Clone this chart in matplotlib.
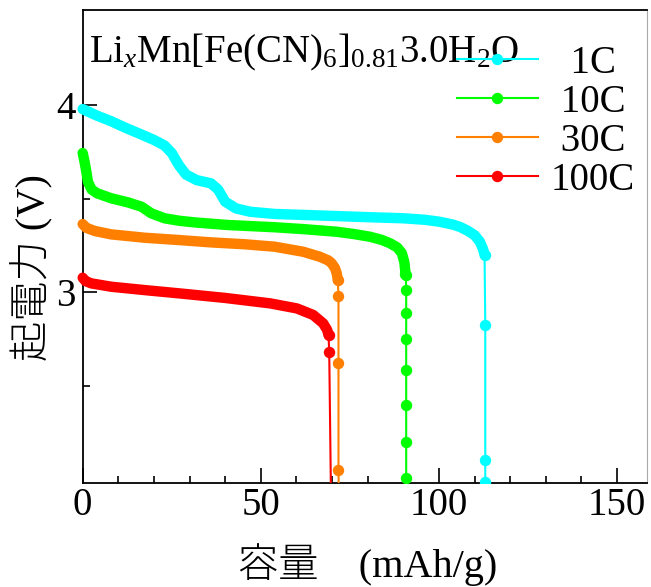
import matplotlib
matplotlib.use("Agg")
import matplotlib.pyplot as plt
from matplotlib.ticker import FixedLocator

plt.rcParams['font.family'] = ['Liberation Serif', 'Noto Sans CJK JP']
plt.rcParams['mathtext.fontset'] = 'custom'
plt.rcParams['mathtext.rm'] = 'Liberation Serif'
plt.rcParams['mathtext.it'] = 'Liberation Serif:italic'

# 放電曲線 (容量 mAh/g, 起電力 V): 平坦部 + 急落部
labels = ['\u20071C', '\u200510C', '\u200530C', '100C']
colors = ['#00ffff', '#00ff00', '#ff8000', '#ff0000']

c1_x = [0, 4, 8, 12, 16, 20, 23, 25, 27, 29, 32, 36, 38, 40, 43, 47, 54, 62, 71, 80, 90, 96, 100, 104, 106, 108, 110, 111.5, 112.4, 112.8]
c1_y = [3.98, 3.945, 3.915, 3.88, 3.848, 3.815, 3.785, 3.745, 3.68, 3.63, 3.60, 3.583, 3.55, 3.485, 3.449, 3.431, 3.419, 3.414, 3.408, 3.402, 3.396, 3.388, 3.378, 3.362, 3.349, 3.33, 3.306, 3.27, 3.23, 3.20]
c1_dx = [112.8, 113.0, 113.0, 113.0]
c1_dy = [3.20, 2.824, 2.104, 1.988]

c10_x = [0, 0.4, 0.8, 1.5, 2.5, 4, 8, 12.7, 16.5, 19.3, 23, 27, 31.4, 40.8, 53.9, 62, 71.3, 76, 80.7, 84, 86.3, 88.3, 89.6, 90.3, 90.6]
c10_y = [3.745, 3.71, 3.67, 3.59, 3.55, 3.53, 3.503, 3.481, 3.458, 3.422, 3.396, 3.383, 3.374, 3.36, 3.348, 3.338, 3.324, 3.312, 3.297, 3.28, 3.262, 3.24, 3.209, 3.16, 3.10]
c10_dx = [90.6, 90.7, 90.8, 90.8, 90.8, 90.8, 90.8, 90.8, 90.8]
c10_dy = [3.10, 3.092, 3.012, 2.888, 2.750, 2.586, 2.399, 2.200, 2.007]

c30_x = [0, 1, 3.4, 8, 17.4, 26.8, 36.1, 45.5, 53.9, 61.9, 66.6, 69.0, 69.9, 70.8, 71.3, 71.6]
c30_y = [3.365, 3.345, 3.328, 3.310, 3.292, 3.280, 3.267, 3.257, 3.244, 3.217, 3.190, 3.17, 3.155, 3.13, 3.102, 3.066]
c30_dx = [71.6, 71.8, 71.8, 71.8, 71.9]
c30_dy = [3.066, 2.982, 2.62, 2.05, 1.90]

c100_x = [0, 0.8, 2.4, 8, 17.4, 26.8, 40, 52.6, 60.1, 64.7, 67.5, 68.6, 69.0]
c100_y = [3.078, 3.06, 3.048, 3.030, 3.012, 2.995, 2.97, 2.941, 2.914, 2.879, 2.834, 2.80, 2.772]
c100_dx = [69.0, 69.2, 69.7]
c100_dy = [2.772, 2.682, 1.90]

plateaus = [(c1_x, c1_y), (c10_x, c10_y), (c30_x, c30_y), (c100_x, c100_y)]
drops = [(c1_dx, c1_dy), (c10_dx, c10_dy), (c30_dx, c30_dy), (c100_dx, c100_dy)]

fig = plt.figure(figsize=(6.51, 5.87), dpi=100)
ax = fig.add_axes([0.127, 0.1777, 0.8669, 0.8053])

handles = []
for (px, py), (dx, dy), c in zip(plateaus, drops, colors):
    ax.plot(px, py, color=c, lw=7.5, solid_capstyle='round',
            solid_joinstyle='round', clip_on=False, zorder=3)
    h, = ax.plot(dx, dy, '-o', color=c, lw=1.5, ms=7.2, zorder=3)
    handles.append(h)

ax.set_xlim(0, 158.4)
ax.set_ylim(1.982, 4.51)
ax.xaxis.set_major_locator(FixedLocator([0, 50, 100, 150]))
ax.xaxis.set_minor_locator(FixedLocator([10, 20, 30, 40, 60, 70, 80, 90, 110, 120, 130, 140]))
ax.yaxis.set_major_locator(FixedLocator([3, 4]))
ax.yaxis.set_minor_locator(FixedLocator([2.5, 3.5]))
ax.set_yticklabels(['3', '4'])

ax.tick_params(which='both', direction='in', width=1.2, labelsize=28,
               top=False, right=False)
ax.tick_params(axis='x', which='major', length=11, pad=3)
ax.tick_params(axis='y', which='major', length=10, pad=5)
ax.tick_params(which='minor', length=5)

for s in ['left', 'bottom', 'top']:
    ax.spines[s].set_linewidth(1.3)
ax.spines['right'].set_color('#aaaaaa')
ax.spines['right'].set_linewidth(0.8)

ax.set_xlabel('容量\u3000(mAh/g)', fontsize=29, fontweight='light')
ax.xaxis.set_label_coords(0.505, -0.174)
ax.xaxis.label.set_va('center')
ax.set_ylabel('起電力 (V)', fontsize=29, fontweight='light')
ax.yaxis.set_label_coords(-0.09, 0.456)
ax.yaxis.label.set_va('center')

ax.text(0.011, 0.89, 'Li$_{x}$Mn[Fe(CN)$_{6}$]$_{0.81}$3.0H$_{2}$O',
        transform=ax.transAxes, fontsize=28, va='baseline', ha='left', zorder=2)

leg = ax.legend(handles, labels, loc='upper left', bbox_to_anchor=(0.663, 0.926),
                frameon=False, fontsize=28, handlelength=2.08, handletextpad=0.33,
                labelspacing=0.05, borderpad=0, borderaxespad=0, numpoints=1)
leg.set_zorder(5)

fig.savefig('out.png', dpi=100)
